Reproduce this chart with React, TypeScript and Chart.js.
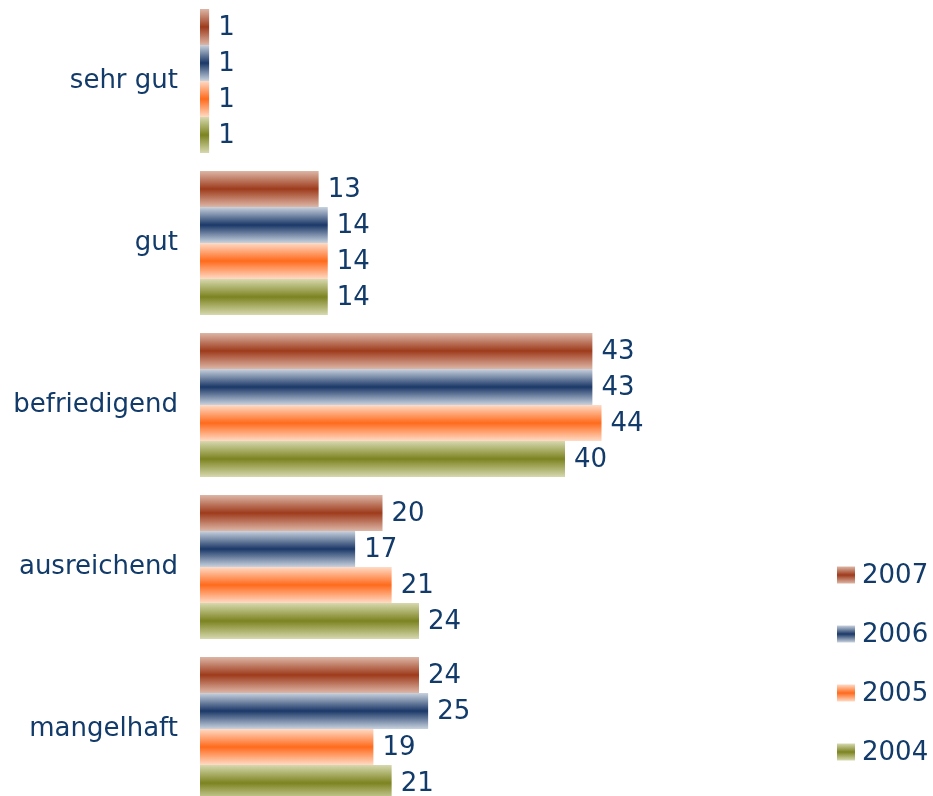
import React, { useEffect, useRef } from "react";
import { Chart, registerables } from "chart.js";

Chart.register(...registerables);

const categories = ["sehr gut", "gut", "befriedigend", "ausreichend", "mangelhaft"];
const seriesLabels = ["2007", "2006", "2005", "2004"];
const values2007 = [1, 13, 43, 20, 24];
const values2006 = [1, 14, 43, 17, 25];
const values2005 = [1, 14, 44, 21, 19];
const values2004 = [1, 14, 40, 24, 21];
const seriesValues = [values2007, values2006, values2005, values2004];
const lightColors = ["#DDB6A6", "#C9D3DF", "#FFDBC6", "#D7D9AF"];
const darkColors = ["#9E3B1C", "#1B3867", "#FF6A1C", "#7C8320"];

const TEXT = "#123B6A";
const FONT_FAMILY = '"DejaVu Sans", Verdana, sans-serif';
const FONT_SIZE = 26;
const CAT_PCT = 0.889;

function makeGradient(ctx: CanvasRenderingContext2D, top: number, h: number, si: number) {
  const g = ctx.createLinearGradient(0, top, 0, top + h);
  g.addColorStop(0, lightColors[si]);
  g.addColorStop(0.5, darkColors[si]);
  g.addColorStop(1, lightColors[si]);
  return g;
}

const valueLabelPlugin = {
  id: "valueLabels",
  afterDatasetsDraw(chart: any) {
    const c = chart.ctx;
    c.save();
    c.font = `${FONT_SIZE}px ${FONT_FAMILY}`;
    c.fillStyle = TEXT;
    c.textBaseline = "middle";
    c.textAlign = "left";
    chart.data.datasets.forEach((ds: any, di: number) => {
      const meta = chart.getDatasetMeta(di);
      meta.data.forEach((el: any, i: number) => {
        c.fillText(String(ds.data[i]), el.x + 9, el.y + 1);
      });
    });
    c.restore();
  },
};

const legendPlugin = {
  id: "customLegend",
  afterDraw(chart: any) {
    const c = chart.ctx;
    c.save();
    c.font = `${FONT_SIZE}px ${FONT_FAMILY}`;
    c.textBaseline = "middle";
    c.textAlign = "left";
    chart.data.datasets.forEach((ds: any, di: number) => {
      const cy = 575 + di * 59;
      const bx = 837;
      const bh = 17;
      const top = cy - bh / 2;
      c.fillStyle = makeGradient(c, top, bh, di);
      c.fillRect(bx, top, 18, bh);
      c.fillStyle = TEXT;
      c.fillText(ds.label, 862, cy + 1);
    });
    c.restore();
  },
};

export default function App() {
  const canvasRef = useRef<HTMLCanvasElement | null>(null);

  useEffect(() => {
    document.body.style.overflow = "hidden";
    const canvas = canvasRef.current;
    if (!canvas) return;
    const chart = new Chart(canvas, {
      type: "bar",
      data: {
        labels: categories,
        datasets: seriesLabels.map((label, si) => ({
          label,
          data: seriesValues[si],
          backgroundColor: (ctx: any) => {
            const ch = ctx.chart;
            const y = ch.scales && ch.scales.y;
            if (!y || ctx.dataIndex === undefined || !ch.chartArea) return darkColors[si];
            const catH = (y.bottom - y.top) / categories.length;
            const groupH = catH * CAT_PCT;
            const barH = groupH / seriesLabels.length;
            const center = y.getPixelForValue(ctx.dataIndex);
            const top = center - groupH / 2 + ctx.datasetIndex * barH;
            return makeGradient(ch.ctx, top, barH, si);
          },
          borderWidth: 0,
          categoryPercentage: CAT_PCT,
          barPercentage: 1,
        })),
      },
      options: {
        indexAxis: "y",
        animation: false,
        responsive: true,
        maintainAspectRatio: false,
        layout: { padding: { left: 0, right: 3, top: 0, bottom: 0 } },
        plugins: {
          legend: { display: false },
          tooltip: { enabled: false },
        },
        scales: {
          x: {
            display: false,
            min: 0,
            max: 80,
            grid: { display: false },
          },
          y: {
            grid: { display: false, drawTicks: false },
            border: { display: false },
            ticks: {
              color: TEXT,
              padding: 22,
              font: { size: FONT_SIZE, family: FONT_FAMILY },
            },
            afterFit: (scale: any) => {
              scale.width = 200;
              scale.paddingTop = 0;
              scale.paddingBottom = 0;
            },
          },
        },
      } as any,
      plugins: [valueLabelPlugin, legendPlugin],
    });
    return () => chart.destroy();
  }, []);

  return (
    <div style={{ position: "fixed", top: 0, left: 0, width: 933, height: 810 }}>
      <canvas ref={canvasRef} />
    </div>
  );
}
